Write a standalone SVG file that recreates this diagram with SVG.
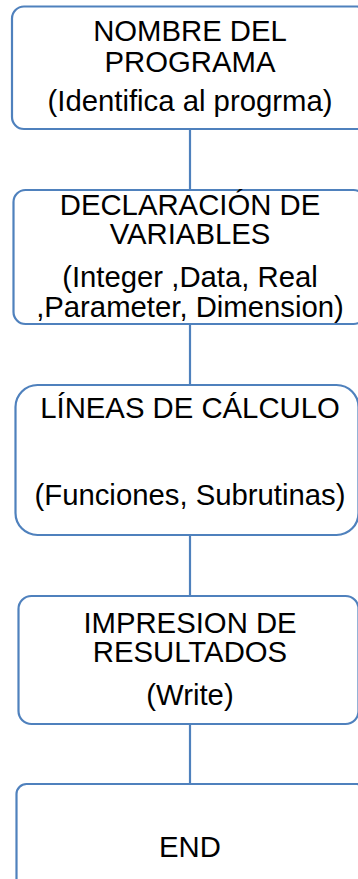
<svg xmlns="http://www.w3.org/2000/svg" width="358" height="879" viewBox="0 0 358 879">
<style>
.box{fill:#ffffff;stroke:#4F81BD;stroke-width:2.2}
.conn{stroke:#4F81BD;stroke-width:2.2;fill:none}
text{font-family:"Liberation Sans",Arial,sans-serif;font-size:29.3px;fill:#000;text-anchor:middle}
</style>
<rect width="358" height="879" fill="#ffffff"/>
<g id="connectors">
<line class="conn" x1="190" y1="129" x2="190" y2="190"/>
<line class="conn" x1="190" y1="324" x2="190" y2="385"/>
<line class="conn" x1="190" y1="535" x2="190" y2="596"/>
<line class="conn" x1="190" y1="724" x2="190" y2="784"/>
</g>
<g id="node1">
<rect class="box" x="12" y="6.5" width="357" height="122.5" rx="12" ry="12"/>
<text x="190" y="41">NOMBRE DEL</text>
<text x="190" y="72">PROGRAMA</text>
<text x="190" y="111">(Identifica al progrma)</text>
</g>
<g id="node2">
<rect class="box" x="13.5" y="190" width="352" height="134" rx="12" ry="12"/>
<text x="190" y="215">DECLARACIÓN DE</text>
<text x="190" y="244">VARIABLES</text>
<text x="190" y="287">(Integer ,Data, Real</text>
<text x="190" y="316.5">,Parameter, Dimension)</text>
</g>
<g id="node3">
<rect class="box" x="15.5" y="385" width="343" height="150" rx="22" ry="22"/>
<text x="190" y="418">LÍNEAS DE CÁLCULO</text>
<text x="190" y="505">(Funciones, Subrutinas)</text>
</g>
<g id="node4">
<rect class="box" x="18.5" y="596" width="340" height="128" rx="13" ry="13"/>
<text x="190" y="632.5">IMPRESION DE</text>
<text x="190" y="661.5">RESULTADOS</text>
<text x="190" y="705">(Write)</text>
</g>
<g id="node5">
<rect class="box" x="16.5" y="784" width="350" height="120" rx="10" ry="10"/>
<text x="190" y="856.5">END</text>
</g>
</svg>
